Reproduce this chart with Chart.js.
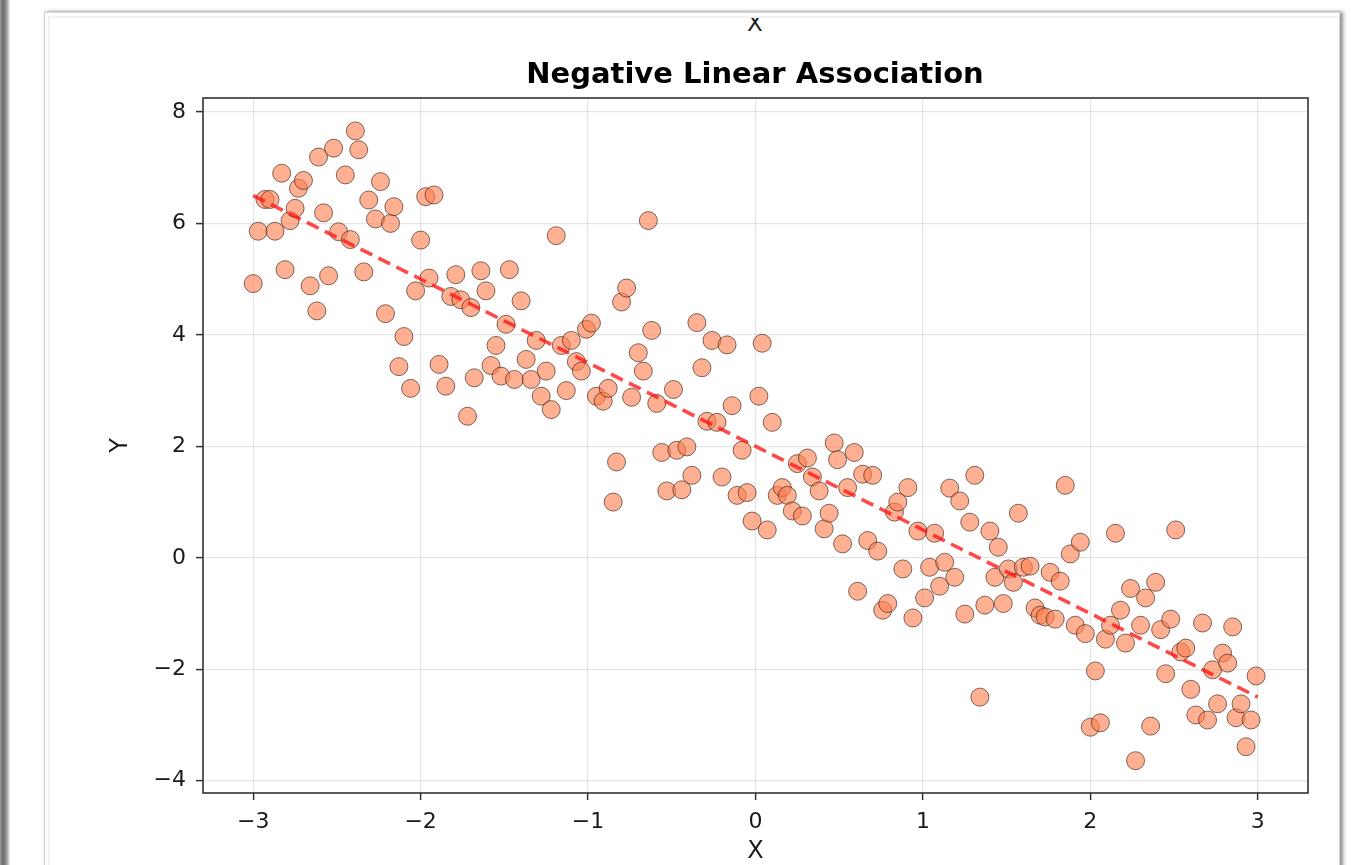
<!DOCTYPE html>
<html>
<head>
<meta charset="utf-8">
<script src="https://cdn.jsdelivr.net/npm/chart.js@4.4.1/dist/chart.umd.min.js"></script>
<style>
  html, body { margin: 0; padding: 0; width: 1358px; height: 865px; overflow: hidden; background: #ffffff; font-family: "DejaVu Sans", sans-serif; }
  #leftbar { position: absolute; left: 0; top: 0; width: 10px; height: 865px;
    background: linear-gradient(to right, #9a9a9a 0px, #6a6a6a 3px, #8c8c8c 6px, #d8d8d8 9px, #ffffff 10px); }
  #card { position: absolute; left: 44px; top: 12px; width: 1294px; height: 900px; background: #ffffff;
    border: 1px solid #d4d8d8; box-shadow: 3px 0 4px rgba(0,0,0,0.45), 0 -1px 2px rgba(0,0,0,0.08); }
  #cardinner { position: absolute; left: 3px; top: 3px; right: 0; bottom: 0; border-left: 2px solid #eef2f2; border-top: 2px solid #eef2f2; }
  #topclip { position: absolute; left: 700px; top: 18px; width: 110px; height: 14px; overflow: hidden; }
  #topclip span { position: absolute; left: 0; width: 110px; text-align: center; top: -7px; font-size: 23px; line-height: 24px; color: #222; font-family: "DejaVu Sans", sans-serif; }
  #title { position: absolute; left: 455px; width: 600px; top: 56px; text-align: center; font-family: "DejaVu Sans", sans-serif;
    font-weight: bold; font-size: 29px; line-height: 34px; color: #000; white-space: nowrap; }
  #wrap { position: absolute; left: 0; top: 0; width: 1358px; height: 865px; }
</style>
</head>
<body>
<div id="leftbar"></div>
<div id="card"><div id="cardinner"></div></div>
<div id="topclip"><span>X</span></div>
<div id="wrap"><canvas id="c" width="1358" height="865"></canvas></div>
<div id="title"></div>
<script>
const chartTitle = "Negative Linear Association";
const xLabel = "X";
const yLabel = "Y";
const xTicks = [-3, -2, -1, 0, 1, 2, 3];
const yTicks = [-4, -2, 0, 2, 4, 6, 8];
const xValues = [
 -3.00,-2.97,-2.93,-2.90,-2.87,-2.83,-2.81,-2.78,-2.75,-2.73,
 -2.70,-2.66,-2.62,-2.61,-2.58,-2.55,-2.52,-2.49,-2.45,-2.42,
 -2.39,-2.37,-2.34,-2.31,-2.27,-2.24,-2.21,-2.18,-2.16,-2.13,
 -2.10,-2.06,-2.03,-2.00,-1.97,-1.95,-1.92,-1.89,-1.85,-1.82,
 -1.79,-1.76,-1.72,-1.70,-1.68,-1.64,-1.61,-1.58,-1.55,-1.52,
 -1.49,-1.47,-1.44,-1.40,-1.37,-1.34,-1.31,-1.28,-1.25,-1.22,
 -1.19,-1.16,-1.13,-1.10,-1.07,-1.04,-1.01,-0.98,-0.95,-0.91,
 -0.88,-0.85,-0.83,-0.80,-0.77,-0.74,-0.70,-0.67,-0.64,-0.62,
 -0.59,-0.56,-0.53,-0.49,-0.47,-0.44,-0.41,-0.38,-0.35,-0.32,
 -0.29,-0.26,-0.23,-0.20,-0.17,-0.14,-0.11,-0.08,-0.05,-0.02,
  0.02, 0.04, 0.07, 0.10, 0.13, 0.16, 0.19, 0.22, 0.25, 0.28,
  0.31, 0.34, 0.38, 0.41, 0.44, 0.47, 0.49, 0.52, 0.55, 0.59,
  0.61, 0.64, 0.67, 0.70, 0.73, 0.76, 0.79, 0.83, 0.85, 0.88,
  0.91, 0.94, 0.97, 1.01, 1.04, 1.07, 1.10, 1.13, 1.16, 1.19,
  1.22, 1.25, 1.28, 1.31, 1.34, 1.37, 1.40, 1.43, 1.45, 1.48,
  1.51, 1.54, 1.57, 1.60, 1.64, 1.67, 1.70, 1.73, 1.76, 1.79,
  1.82, 1.85, 1.88, 1.91, 1.94, 1.97, 2.00, 2.03, 2.06, 2.09,
  2.12, 2.15, 2.18, 2.21, 2.24, 2.27, 2.30, 2.33, 2.36, 2.39,
  2.42, 2.45, 2.48, 2.51, 2.54, 2.57, 2.60, 2.63, 2.67, 2.70,
  2.73, 2.76, 2.79, 2.82, 2.85, 2.87, 2.90, 2.93, 2.96, 2.99
];
const yValues = [
  4.92, 5.86, 6.43, 6.43, 5.86, 6.90, 5.17, 6.05, 6.27, 6.63,
  6.77, 4.88, 4.43, 7.19, 6.19, 5.06, 7.35, 5.85, 6.87, 5.71,
  7.66, 7.32, 5.13, 6.42, 6.08, 6.75, 4.38, 6.00, 6.30, 3.43,
  3.97, 3.04, 4.79, 5.70, 6.48, 5.02, 6.51, 3.47, 3.08, 4.69,
  5.08, 4.63, 2.54, 4.49, 3.23, 5.15, 4.79, 3.45, 3.81, 3.26,
  4.19, 5.17, 3.20, 4.61, 3.56, 3.20, 3.90, 2.90, 3.35, 2.66,
  5.78, 3.81, 3.00, 3.90, 3.52, 3.35, 4.10, 4.21, 2.90, 2.81,
  3.04, 1.00, 1.72, 4.59, 4.84, 2.88, 3.68, 3.35, 6.05, 4.08,
  2.77, 1.89, 1.20, 3.02, 1.93, 1.22, 1.99, 1.48, 4.22, 3.41,
  2.45, 3.90, 2.43, 1.45, 3.82, 2.73, 1.12, 1.93, 1.17, 0.66,
  2.90, 3.85, 0.50, 2.43, 1.12, 1.26, 1.12, 0.84, 1.69, 0.75,
  1.79, 1.45, 1.20, 0.52, 0.80, 2.06, 1.76, 0.25, 1.26, 1.89,
 -0.60, 1.50, 0.31, 1.48, 0.12,-0.94,-0.82, 0.82, 1.00,-0.20,
  1.26,-1.08, 0.48,-0.72,-0.17, 0.44,-0.51,-0.08, 1.25,-0.35,
  1.02,-1.01, 0.64, 1.48,-2.50,-0.85, 0.48,-0.35, 0.19,-0.82,
 -0.20,-0.44, 0.80,-0.17,-0.15,-0.90,-1.03,-1.06,-0.26,-1.10,
 -0.42, 1.30, 0.07,-1.21, 0.28,-1.36,-3.04,-2.03,-2.96,-1.46,
 -1.21, 0.44,-0.94,-1.53,-0.55,-3.64,-1.21,-0.72,-3.02,-0.44,
 -1.29,-2.08,-1.10, 0.50,-1.69,-1.62,-2.36,-2.82,-1.17,-2.91,
 -2.01,-2.62,-1.71,-1.89,-1.24,-2.87,-2.62,-3.39,-2.91,-2.12
];
const fitX = [-3, 3];
const fitY = [6.5, -2.5];

document.getElementById('title').textContent = chartTitle;

const points = xValues.map((x, i) => ({ x: x, y: yValues[i] }));
const fitLine = fitX.map((x, i) => ({ x: x, y: fitY[i] }));

const fmt = v => (v < 0 ? "\u2212" + Math.abs(v) : String(v));

const frame = {
  id: 'frame',
  afterDatasetsDraw(chart) {
    const a = chart.chartArea, ctx = chart.ctx;
    ctx.save();
    ctx.strokeStyle = '#333333';
    ctx.lineWidth = 1.6;
    ctx.strokeRect(a.left, a.top, a.right - a.left, a.bottom - a.top);
    ctx.restore();
  }
};

new Chart(document.getElementById('c'), {
  type: 'scatter',
  data: {
    datasets: [
      {
        type: 'line',
        data: fitLine,
        borderColor: 'rgba(255,20,20,0.78)',
        borderWidth: 3.6,
        borderDash: [13, 7],
        pointRadius: 0,
        fill: false,
        order: 0
      },
      {
        data: points,
        backgroundColor: 'rgba(255,127,80,0.62)',
        borderColor: 'rgba(40,20,10,0.6)',
        borderWidth: 1,
        pointRadius: 9,
        order: 1
      }
    ]
  },
  plugins: [frame],
  options: {
    responsive: false,
    animation: false,
    layout: { padding: { left: 0, right: 50, top: 98, bottom: 0 } },
    plugins: {
      legend: { display: false },
      tooltip: { enabled: false },
      title: { display: false }
    },
    scales: {
      x: {
        type: 'linear',
        min: -3.3,
        max: 3.3,
        afterFit(s) { s.height = 72; },
        afterBuildTicks(s) { s.ticks = xTicks.map(v => ({ value: v })); },
        ticks: { callback: v => fmt(v), color: '#1a1a1a', font: { family: 'DejaVu Sans', size: 22 }, padding: 9, maxRotation: 0 },
        grid: { color: 'rgba(0,0,0,0.1)', lineWidth: 1.2, tickColor: '#333333', tickLength: 7, tickWidth: 1.5 },
        border: { display: false },
        title: { display: true, text: xLabel, color: '#1a1a1a', font: { family: 'DejaVu Sans', size: 24, lineHeight: 1.1 }, padding: { top: 0, bottom: 0 } }
      },
      y: {
        type: 'linear',
        min: -4.22,
        max: 8.25,
        afterFit(s) { s.width = 203; },
        afterBuildTicks(s) { s.ticks = yTicks.map(v => ({ value: v })); },
        ticks: { callback: v => fmt(v), color: '#1a1a1a', font: { family: 'DejaVu Sans', size: 22 }, padding: 10 },
        grid: { color: 'rgba(0,0,0,0.1)', lineWidth: 1.2, tickColor: '#333333', tickLength: 7, tickWidth: 1.5 },
        border: { display: false },
        title: { display: true, text: yLabel, color: '#1a1a1a', font: { family: 'DejaVu Sans', size: 24, lineHeight: 1.2 }, padding: { top: 106, bottom: 0 } }
      }
    }
  }
});
</script>
</body>
</html>
